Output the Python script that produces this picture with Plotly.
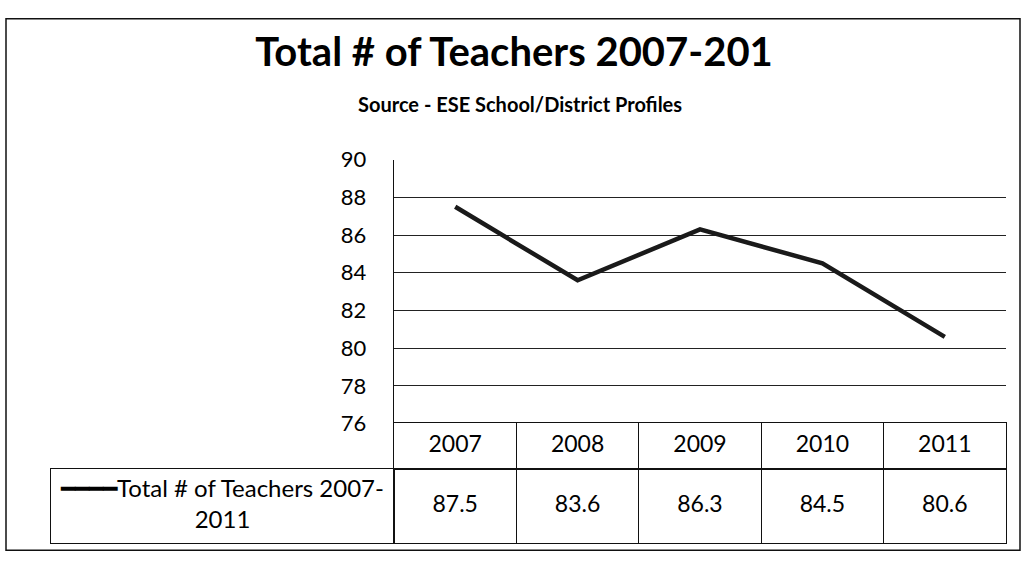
import plotly.graph_objects as go

years = ["2007", "2008", "2009", "2010", "2011"]
teachers = [87.5, 83.6, 86.3, 84.5, 80.6]
series_name = "Total # of Teachers 2007-2011"
series_label = "━━━━Total # of Teachers 2007-<br>2011"
title_text = "Total # of Teachers 2007-201"
subtitle_text = "Source - ESE School/District Profiles"
y_ticks = [76, 78, 80, 82, 84, 86, 88, 90]

W, H = 1024, 566
FONT = "Lato, 'Open Sans', sans-serif"
INK = "#111"

def px(x):
    return x / W

def py(y):
    return 1 - y / H

PLOT_L, PLOT_R = 394, 1006
PLOT_T, PLOT_B = 153, 430
ROW_MID, ROW_B = 478, 556
LABEL_L = 51

fig = go.Figure()

# main line
fig.add_trace(go.Scatter(
    x=years, y=teachers, mode="lines",
    line=dict(color="#1a1a1a", width=4.5),
    showlegend=False, hoverinfo="skip", xaxis="x", yaxis="y",
))

tfont = dict(family=FONT, size=23, color="black")

# data-table header row (years)
fig.add_trace(go.Scatter(
    x=years, y=["Year"] * len(years), mode="text", text=years,
    textfont=tfont, textposition="middle center",
    showlegend=False, hoverinfo="skip", xaxis="x2", yaxis="y2",
))
# data-table value row
fig.add_trace(go.Scatter(
    x=years, y=[series_name] * len(years), mode="text",
    text=[f"{v:.1f}" for v in teachers],
    textfont=tfont, textposition="middle center",
    showlegend=False, hoverinfo="skip", xaxis="x4", yaxis="y3",
))
# series label cell
fig.add_trace(go.Scatter(
    x=[series_name], y=[series_name], mode="text", text=[series_label],
    textfont=dict(tfont, size=24), textposition="middle center",
    showlegend=False, hoverinfo="skip", xaxis="x3", yaxis="y4",
))

cell_axis = dict(type="category", showticklabels=False, ticks="",
                 showline=True, mirror=True, linecolor=INK, linewidth=1,
                 zeroline=False, fixedrange=True)
grid_x = dict(cell_axis, domain=[px(PLOT_L), px(PLOT_R)],
              categoryorder="array", categoryarray=years,
              range=[-0.5, len(years) - 0.5],
              showgrid=True, tickson="boundaries", gridcolor=INK, gridwidth=1)

fig.update_layout(
    width=W, height=H,
    margin=dict(l=0, r=0, t=0, b=0),
    paper_bgcolor="white", plot_bgcolor="rgba(0,0,0,0)",
    font=dict(family=FONT, color="black"),
    title=dict(text="<b>" + title_text + "</b>", x=px(514), xanchor="center",
               y=py(52), yanchor="middle",
               font=dict(family=FONT, size=40, color="black")),
    xaxis=dict(domain=[px(PLOT_L), px(PLOT_R)], range=[-0.5, 4.5],
               type="category", visible=False, fixedrange=True, anchor="y"),
    yaxis=dict(domain=[py(PLOT_B), py(PLOT_T)], range=[76, 90], tickvals=y_ticks,
               showgrid=True, gridcolor="#222", gridwidth=1,
               showline=True, linecolor=INK, linewidth=1.2,
               zeroline=False, ticks="", ticklabelstandoff=22, anchor="x",
               tickfont=dict(family=FONT, size=22, color="black"),
               fixedrange=True),
    xaxis2=dict(grid_x, anchor="y2"),
    yaxis2=dict(cell_axis, domain=[py(ROW_MID), py(PLOT_B)], anchor="x2",
                range=[-0.5, 0.5], showgrid=False),
    xaxis4=dict(grid_x, anchor="y3"),
    yaxis3=dict(cell_axis, domain=[py(ROW_B), py(ROW_MID)], anchor="x4",
                range=[-0.5, 0.5], showgrid=False),
    xaxis3=dict(cell_axis, domain=[px(LABEL_L), px(PLOT_L)], anchor="y4",
                range=[-0.5, 0.5], showgrid=False),
    yaxis4=dict(cell_axis, domain=[py(ROW_B), py(ROW_MID)], anchor="x3",
                range=[-0.5, 0.5], showgrid=False),
    annotations=[dict(text="<b>" + subtitle_text + "</b>", x=px(520), y=py(94),
                      xref="paper", yref="paper", showarrow=False,
                      xanchor="center", yanchor="middle",
                      font=dict(family=FONT, size=20, color="black"))],
    shapes=[dict(type="rect", xref="paper", yref="paper",
                 x0=px(6), x1=px(1020), y0=py(563), y1=py(5),
                 line=dict(color=INK, width=1.5))],
)

fig.write_html(
    "out.html",
    config={"displayModeBar": False, "staticPlot": True},
    post_script="document.body.style.margin='0';document.body.style.overflow='hidden';",
)
